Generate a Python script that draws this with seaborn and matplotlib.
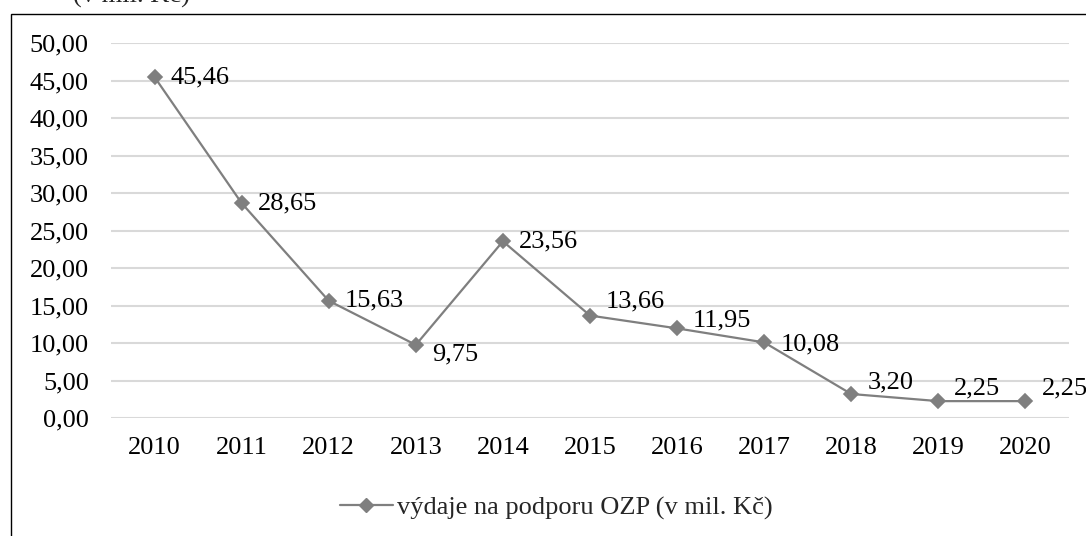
import matplotlib
matplotlib.use('Agg')
import matplotlib.pyplot as plt
from matplotlib.lines import Line2D
from matplotlib.patches import Rectangle
import seaborn as sns
import pandas as pd

years = ['2010', '2011', '2012', '2013', '2014', '2015', '2016', '2017', '2018', '2019', '2020']
vydaje = [45.46, 28.65, 15.63, 9.75, 23.56, 13.66, 11.95, 10.08, 3.20, 2.25, 2.25]
series_name = 'výdaje na podporu OZP (v mil. Kč)'
title_text = '(v mil. Kč)'

# label nudges in pixels (Excel put some labels above / below the point)
label_dy = [0, 0, 0, -10, 0, 14, 8, -2, 12, 13, 13]

sns.set_theme(style='white')
plt.rcParams['font.family'] = ['Liberation Serif', 'DejaVu Serif']
plt.rcParams['font.size'] = 19

df = pd.DataFrame({'rok': years, 'vydaje': vydaje})

fig = plt.figure(figsize=(10.86, 5.36), dpi=100)
ax = fig.add_axes([111 / 1086, 1 - 418 / 536, 958 / 1086, 375 / 536])

line_color = '#7f7f7f'
sns.pointplot(data=df, x='rok', y='vydaje', order=years, color=line_color,
              markers='D', markersize=7.5, linewidth=1.6, ax=ax)

ax.set_xlim(-0.5, len(years) - 0.5)
ax.set_ylim(0, 50)
ax.set_yticks(range(0, 51, 5))
ax.set_yticklabels([f'{v:.2f}'.replace('.', ',') for v in range(0, 51, 5)])
ax.set_xlabel('')
ax.set_ylabel('')
ax.grid(axis='y', color='#d9d9d9', linewidth=1.5)
ax.set_axisbelow(True)
for s in ax.spines.values():
    s.set_visible(False)
ax.tick_params(axis='y', length=0, pad=16, labelsize=19, labelcolor='black')
ax.tick_params(axis='x', length=0, pad=14, labelsize=19, labelcolor='black')

# data labels
for i, v in enumerate(vydaje):
    ax.annotate(f'{v:.2f}'.replace('.', ','), (i, v), xytext=(16, label_dy[i]),
                textcoords='offset pixels', ha='left', va='center',
                fontsize=19, color='black')

# legend below
handle = Line2D([], [], color=line_color, marker='D', markersize=7.5, linewidth=1.6)
fig.legend([handle], [series_name], loc='center', bbox_to_anchor=(556 / 1086, 1 - 508 / 536),
           frameon=False, handlelength=2.0, handletextpad=0.15, fontsize=19)

# chart frame (cut by the image edges)
fig.patches.append(Rectangle((11 / 1086, -0.1), 1.2, 1 - 14 / 536 + 0.1,
                             transform=fig.transFigure, fill=False,
                             edgecolor='black', linewidth=1.0))

# title, mostly cut off at the top
fig.text(73 / 1086, 1 - 3 / 536, title_text, ha='left', va='baseline', fontsize=19)

fig.savefig('out.png', dpi=100)
